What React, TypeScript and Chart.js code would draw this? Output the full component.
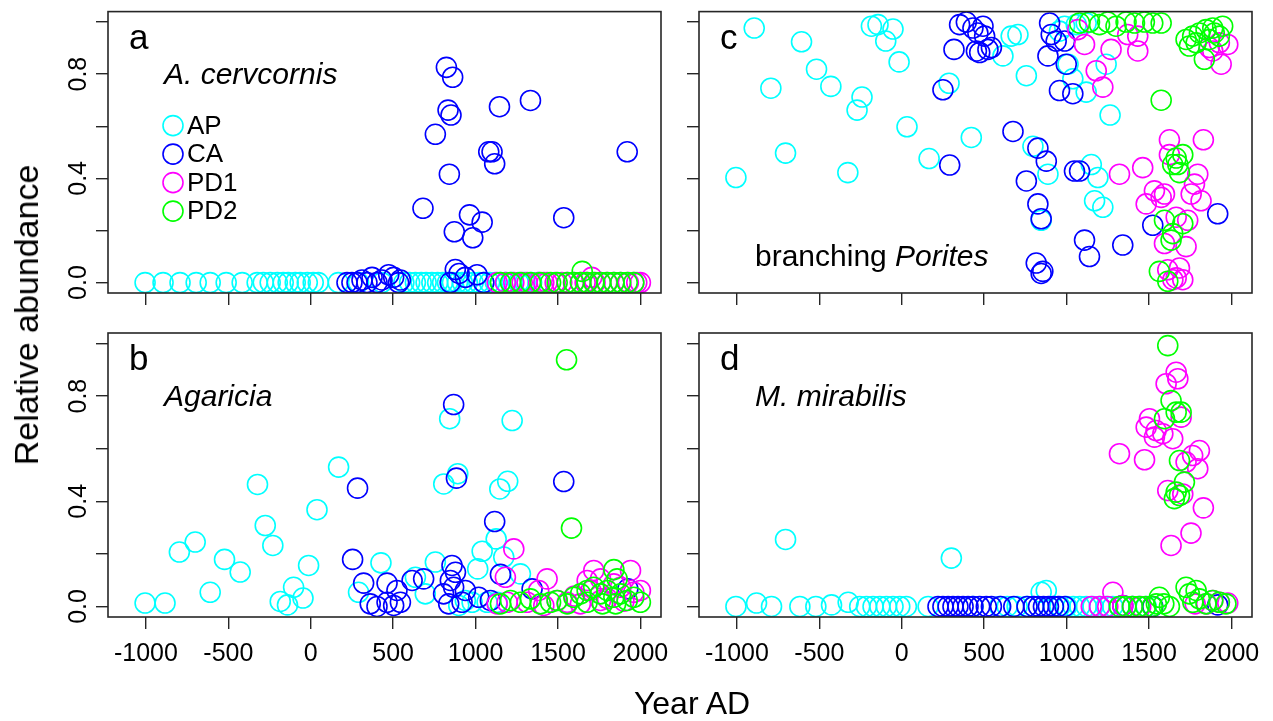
import React, { useEffect, useRef } from 'react';
import { Chart, registerables } from 'chart.js';

Chart.register(...registerables);

const FONT = '"Liberation Sans", Arial, Helvetica, sans-serif';

// ---------- axes ----------
const X_MIN = -1230;
const X_MAX = 2125;
const Y_MIN = -0.04;
const Y_MAX = 1.04;
const X_TICKS = [-1000, -500, 0, 500, 1000, 1500, 2000];
const Y_TICKS = [0, 0.2, 0.4, 0.6, 0.8, 1.0];
const Y_TICK_LABELS = ['0.0', '', '0.4', '', '0.8', ''];

// ---------- series ----------
const SERIES = ['AP', 'CA', 'PD1', 'PD2'];
const COLORS = ['#00FFFF', '#0000FF', '#FF00FF', '#00FF00'];

// ---------- panel a: A. cervcornis  [year, relative abundance] ----------
const A_AP = [[-1005, 0], [-896, 0], [-793, 0], [-695, 0], [-610, 0], [-513, 0], [-416, 0], [-325, 0], [-288, 0], [-246, 0], [-203, 0], [-167, 0], [-137, 0], [-94, 0], [-64, 0], [-21, 0], [15, 0], [46, 0], [167, 0], [290, 0], [432, 0], [565, 0], [600, 0], [635, 0], [670, 0], [700, 0], [735, 0], [770, 0], [800, 0], [830, 0], [860, 0], [890, 0], [920, 0], [950, 0], [985, 0], [1020, 0], [1050, 0], [1085, 0], [1120, 0], [1150, 0], [1185, 0], [1220, 0], [1260, 0], [1300, 0], [1340, 0], [1380, 0]];
const A_CA = [[220, 0], [250, 0], [281, 0], [311, 0.01], [341, 0], [372, 0.02], [402, 0], [432, 0.01], [473, 0.03], [503, 0.02], [533, 0], [544, 0.01], [681, 0.285], [756, 0.569], [823, 0.826], [833, 0.662], [841, 0.416], [846, 0], [851, 0.643], [861, 0.788], [871, 0.195], [877, 0.05], [900, 0.035], [938, 0.02], [963, 0.26], [983, 0.172], [1009, 0.03], [1040, 0.232], [1050, 0], [1080, 0.502], [1100, 0.502], [1116, 0.456], [1145, 0.675], [1333, 0.699], [1535, 0.249], [1920, 0.502]];
const A_PD1 = [[1131, 0], [1181, 0], [1232, 0], [1283, 0], [1313, 0], [1383, 0], [1414, 0], [1434, 0], [1483, 0], [1523, 0], [1556, 0], [1594, 0], [1636, 0], [1665, 0], [1677, 0], [1705, 0.02], [1725, 0], [1758, 0], [1796, 0], [1839, 0], [1880, 0], [1927, 0], [1960, 0], [1978, 0], [2000, 0]];
const A_PD2 = [[1151, 0], [1212, 0], [1272, 0], [1333, 0], [1394, 0], [1455, 0], [1495, 0], [1556, 0], [1596, 0], [1637, 0], [1647, 0.043], [1677, 0], [1717, 0], [1758, 0], [1799, 0], [1839, 0], [1880, 0], [1920, 0], [1960, 0]];

// ---------- panel b: Agaricia ----------
const B_AP = [[-1005, 0.013], [-884, 0.013], [-797, 0.207], [-701, 0.245], [-610, 0.054], [-523, 0.179], [-428, 0.131], [-323, 0.464], [-276, 0.308], [-230, 0.232], [-185, 0.019], [-141, 0.006], [-104, 0.073], [-47, 0.032], [-13, 0.156], [38, 0.368], [169, 0.53], [290, 0.054], [426, 0.166], [635, 0.111], [695, 0.048], [756, 0.169], [807, 0.466], [843, 0.714], [892, 0.505], [898, 0.004], [938, 0.023], [979, 0.016], [1013, 0.143], [1040, 0.21], [1070, 0.016], [1125, 0.257], [1131, 0.016], [1147, 0.447], [1171, 0.188], [1195, 0.476], [1222, 0.707], [1272, 0.124]];
const B_CA = [[254, 0.179], [284, 0.45], [321, 0.089], [361, 0.01], [402, 0], [463, 0.089], [463, 0.016], [503, 0.004], [523, 0.061], [544, 0.016], [615, 0.099], [685, 0.105], [806, 0.048], [837, 0.01], [847, 0.099], [857, 0.156], [867, 0.768], [867, 0.073], [878, 0.13], [884, 0.488], [918, 0.016], [938, 0.061], [1019, 0.035], [1090, 0.023], [1116, 0.323], [1151, 0.122], [1343, 0.067], [1535, 0.475], [1924, 0.067]];
const B_PD1 = [[1131, 0.01], [1181, 0.111], [1192, 0.016], [1232, 0.219], [1313, 0.016], [1383, 0.061], [1414, 0.004], [1434, 0.105], [1495, 0.023], [1556, 0.016], [1600, 0.04], [1636, 0.01], [1677, 0.099], [1700, 0.06], [1717, 0.137], [1758, 0.105], [1758, 0.023], [1800, 0.03], [1839, 0.086], [1880, 0.073], [1900, 0.02], [1940, 0.137], [1960, 0.054], [2000, 0.061]];
const B_PD2 = [[1151, 0.01], [1212, 0.023], [1272, 0.016], [1333, 0.029], [1394, 0.01], [1455, 0.016], [1495, 0.023], [1552, 0.938], [1556, 0.01], [1582, 0.298], [1596, 0.035], [1637, 0.048], [1677, 0.061], [1677, 0.016], [1717, 0.073], [1758, 0.048], [1770, 0.01], [1799, 0.061], [1839, 0.14], [1839, 0.035], [1850, 0.01], [1859, 0.105], [1880, 0.048], [1920, 0.023], [1960, 0.035], [2000, 0.016]];

// ---------- panel c: branching Porites ----------
const C_AP = [[-1006, 0.403], [-895, 0.977], [-794, 0.746], [-705, 0.497], [-608, 0.924], [-517, 0.819], [-430, 0.753], [-327, 0.422], [-271, 0.662], [-241, 0.712], [-184, 0.984], [-144, 0.99], [-97, 0.927], [-53, 0.973], [-16, 0.847], [32, 0.598], [166, 0.476], [287, 0.765], [422, 0.557], [614, 0.87], [664, 0.946], [705, 0.952], [756, 0.794], [796, 0.523], [846, 0.239], [887, 0.416], [957, 0.965], [988, 0.984], [1009, 0.838], [1038, 0.782], [1059, 0.99], [1119, 0.996], [1119, 0.731], [1150, 0.453], [1170, 0.314], [1190, 0.403], [1220, 0.289], [1240, 0.838], [1264, 0.643]];
const C_CA = [[250, 0.74], [291, 0.451], [317, 0.895], [351, 0.99], [392, 1.0], [432, 0.977], [453, 0.889], [462, 0.958], [473, 0.883], [493, 0.984], [503, 0.946], [523, 0.895], [544, 0.902], [675, 0.58], [756, 0.39], [816, 0.075], [826, 0.516], [826, 0.302], [846, 0.245], [846, 0.035], [856, 0.043], [877, 0.466], [887, 0.87], [897, 0.996], [907, 0.952], [937, 0.927], [957, 0.737], [988, 0.927], [998, 0.838], [1038, 0.725], [1048, 0.428], [1079, 0.428], [1109, 0.163], [1139, 0.1], [1341, 0.144], [1523, 0.22], [1917, 0.264]];
const C_PD1 = [[1068, 0.971], [1109, 0.914], [1180, 0.813], [1220, 0.75], [1270, 0.895], [1321, 0.416], [1371, 0.952], [1432, 0.946], [1432, 0.889], [1462, 0.441], [1483, 0.302], [1533, 0.352], [1574, 0.327], [1594, 0.34], [1594, 0.15], [1614, 0.049], [1624, 0.548], [1624, 0.491], [1645, 0.011], [1665, 0.251], [1665, 0.018], [1685, 0.056], [1705, 0.011], [1725, 0.138], [1735, 0.239], [1756, 0.34], [1776, 0.378], [1796, 0.416], [1816, 0.314], [1830, 0.548], [1866, 0.902], [1887, 0.889], [1927, 0.92], [1938, 0.838], [1978, 0.914]];
const C_PD2 = [[1079, 0.996], [1139, 1.0], [1200, 0.99], [1250, 1.0], [1300, 0.984], [1361, 1.0], [1412, 0.996], [1472, 1.0], [1523, 0.996], [1563, 0.043], [1574, 0.996], [1574, 0.7], [1594, 0.239], [1614, 0.005], [1634, 0.163], [1644, 0.453], [1644, 0.188], [1665, 0.478], [1675, 0.453], [1685, 0.422], [1705, 0.491], [1705, 0.226], [1725, 0.933], [1745, 0.908], [1765, 0.946], [1786, 0.92], [1806, 0.958], [1836, 0.857], [1846, 0.971], [1866, 0.933], [1887, 0.977], [1896, 0.958], [1927, 0.946], [1947, 0.984]];

// ---------- panel d: M. mirabilis ----------
const D_AP = [[-1006, 0], [-881, 0.013], [-790, 0], [-705, 0.255], [-618, 0], [-521, 0], [-426, 0.006], [-325, 0.016], [-255, 0], [-214, 0], [-174, 0], [-133, 0], [-93, 0], [-53, 0], [-12, 0], [28, 0], [160, 0], [301, 0.184], [432, 0], [594, 0], [640, 0], [700, 0], [760, 0], [800, 0], [846, 0.054], [877, 0.061], [920, 0], [960, 0], [1000, 0], [1040, 0], [1080, 0], [1120, 0], [1160, 0], [1200, 0], [1240, 0], [1280, 0], [1320, 0], [1360, 0], [1400, 0], [1440, 0], [1483, 0]];
const D_CA = [[220, 0], [250, 0], [281, 0], [311, 0], [341, 0], [372, 0], [402, 0], [432, 0], [473, 0], [513, 0], [544, 0], [600, 0], [680, 0], [760, 0], [800, 0], [830, 0], [860, 0], [890, 0], [920, 0], [950, 0], [990, 0], [1341, 0.004], [1523, 0], [1917, 0.006]];
const D_PD1 = [[1150, 0], [1200, 0], [1250, 0], [1281, 0.054], [1321, 0.581], [1341, 0.004], [1400, 0], [1450, 0], [1473, 0.558], [1483, 0.682], [1503, 0.714], [1533, 0.644], [1543, 0.669], [1584, 0.657], [1604, 0.847], [1614, 0.441], [1634, 0.232], [1644, 0.638], [1665, 0.891], [1675, 0.866], [1695, 0.72], [1705, 0.428], [1725, 0.549], [1755, 0.279], [1765, 0.574], [1780, 0.01], [1796, 0.524], [1806, 0.593], [1830, 0.375], [1850, 0.01], [1887, 0.023], [1927, 0.016], [1978, 0.013]];
const D_PD2 = [[1321, 0], [1360, 0], [1400, 0], [1440, 0], [1480, 0], [1520, 0], [1545, 0.01], [1563, 0.035], [1590, 0.01], [1594, 0.714], [1614, 0.992], [1624, 0], [1634, 0.783], [1654, 0.41], [1665, 0.739], [1665, 0.435], [1685, 0.555], [1685, 0.422], [1695, 0.739], [1715, 0.473], [1725, 0.073], [1745, 0.048], [1766, 0.016], [1786, 0.061], [1806, 0.029], [1846, 0.01], [1887, 0.023], [1927, 0.016], [1967, 0.01]];

// ---------- layout (page pixels) ----------
type PanelDef = {
  id: string;
  letter: string;
  name: { text: string; italic: boolean }[];
  nameDy: number;
  series: number[][][];
  x: number; y: number; w: number; h: number;
  plotL: number; plotT: number; plotR: number; plotB: number;
  showX: boolean; showY: boolean; legend: boolean;
};

const PANELS: PanelDef[] = [
  { id: 'a', letter: 'a', name: [{ text: 'A. cervcornis', italic: true }], nameDy: 72, series: [A_AP, A_CA, A_PD1, A_PD2],
    x: 40, y: 0, w: 640, h: 320, plotL: 108, plotT: 8, plotR: 661, plotB: 293, showX: false, showY: true, legend: true },
  { id: 'b', letter: 'b', name: [{ text: 'Agaricia', italic: true }], nameDy: 73, series: [B_AP, B_CA, B_PD1, B_PD2],
    x: 40, y: 320, w: 640, h: 401, plotL: 108, plotT: 333, plotR: 661, plotB: 617, showX: true, showY: true, legend: false },
  { id: 'c', letter: 'c', name: [{ text: 'branching ', italic: false }, { text: 'Porites', italic: true }], nameDy: 254, series: [C_AP, C_CA, C_PD1, C_PD2],
    x: 680, y: 0, w: 593, h: 320, plotL: 699, plotT: 8, plotR: 1252, plotB: 293, showX: false, showY: false, legend: false },
  { id: 'd', letter: 'd', name: [{ text: 'M. mirabilis', italic: true }], nameDy: 73, series: [D_AP, D_CA, D_PD1, D_PD2],
    x: 680, y: 320, w: 593, h: 401, plotL: 699, plotT: 333, plotR: 1252, plotB: 617, showX: true, showY: false, legend: false },
];

const AXIS_COLOR = '#262626';

function makeConfig(def: PanelDef): any {
  const left = def.plotL - def.x;
  const top = def.plotT - def.y;
  const right = def.w - (def.plotR - def.x);
  const bottom = def.h - (def.plotB - def.y);

  const decor = {
    id: 'decor' + def.id,
    afterDraw(chart: any) {
      const ctx = chart.ctx;
      const a = chart.chartArea;
      ctx.save();
      // box
      ctx.strokeStyle = AXIS_COLOR;
      ctx.lineWidth = 1.6;
      ctx.strokeRect(a.left, a.top, a.right - a.left, a.bottom - a.top);
      ctx.fillStyle = '#000';
      // y tick labels
      if (def.showY) {
        const ys = chart.scales.y;
        ctx.font = `25px ${FONT}`;
        ctx.textAlign = 'center';
        ctx.textBaseline = 'middle';
        Y_TICKS.forEach((v, i) => {
          const lab = Y_TICK_LABELS[i];
          if (!lab) return;
          const py = ys.getPixelForValue(v);
          ctx.save();
          ctx.translate(a.left - 29, py);
          ctx.rotate(-Math.PI / 2);
          ctx.fillText(lab, 0, 0);
          ctx.restore();
        });
      }
      // panel letter
      ctx.textAlign = 'left';
      ctx.textBaseline = 'alphabetic';
      ctx.font = `35px ${FONT}`;
      ctx.fillText(def.letter, a.left + 21, a.top + 37);
      // species name
      let nx = a.left + 56;
      def.name.forEach((part) => {
        ctx.font = `${part.italic ? 'italic ' : ''}30px ${FONT}`;
        ctx.fillText(part.text, nx, a.top + def.nameDy);
        nx += ctx.measureText(part.text).width;
      });
      // legend
      if (def.legend) {
        chart.data.datasets.forEach((ds: any, i: number) => {
          const cy = a.top + 114 + i * 28.5;
          const cx = a.left + 65;
          ctx.beginPath();
          ctx.arc(cx, cy, 10, 0, Math.PI * 2);
          ctx.strokeStyle = ds.borderColor;
          ctx.lineWidth = 1.6;
          ctx.stroke();
          ctx.font = `26px ${FONT}`;
          ctx.textBaseline = 'middle';
          ctx.fillStyle = '#000';
          ctx.fillText(ds.label, cx + 14, cy + 1);
        });
      }
      ctx.restore();
    },
  };

  return {
    type: 'scatter',
    data: {
      datasets: SERIES.map((name, i) => ({
        label: name,
        data: def.series[i].map((p) => ({ x: p[0], y: p[1] })),
        borderColor: COLORS[i],
        backgroundColor: 'rgba(0,0,0,0)',
        pointRadius: 10,
        pointHoverRadius: 10,
        pointBorderWidth: 1.6,
        showLine: false,
        order: 4 - i,
      })),
    },
    options: {
      responsive: false,
      maintainAspectRatio: false,
      animation: false,
      events: [],
      layout: { padding: { left: 0, top, right, bottom: 0 } },
      plugins: { legend: { display: false }, tooltip: { enabled: false } },
      scales: {
        x: {
          type: 'linear',
          position: 'bottom',
          min: X_MIN,
          max: X_MAX,
          afterBuildTicks: (s: any) => { s.ticks = X_TICKS.map((v) => ({ value: v })); },
          afterFit: (s: any) => { s.height = bottom; },
          grid: { display: true, drawOnChartArea: false, drawTicks: true, tickLength: 12, color: AXIS_COLOR, lineWidth: 1.4 },
          border: { display: false },
          ticks: {
            display: def.showX,
            autoSkip: false,
            maxRotation: 0,
            minRotation: 0,
            padding: 10,
            color: '#000',
            font: { family: FONT, size: 25 },
            callback: (v: any) => String(v),
          },
        },
        y: {
          type: 'linear',
          position: 'left',
          min: Y_MIN,
          max: Y_MAX,
          afterBuildTicks: (s: any) => { s.ticks = Y_TICKS.map((v) => ({ value: v })); },
          afterFit: (s: any) => { s.width = left; },
          grid: { display: true, drawOnChartArea: false, drawTicks: true, tickLength: 12, color: AXIS_COLOR, lineWidth: 1.4 },
          border: { display: false },
          ticks: { display: false },
        },
      },
    },
    plugins: [decor],
  };
}

function Panel({ def }: { def: PanelDef }) {
  const ref = useRef<HTMLCanvasElement | null>(null);
  useEffect(() => {
    if (!ref.current) return;
    const chart = new Chart(ref.current, makeConfig(def));
    return () => chart.destroy();
  }, [def]);
  return (
    <canvas
      ref={ref}
      width={def.w}
      height={def.h}
      style={{ position: 'absolute', left: def.x, top: def.y, width: def.w, height: def.h }}
    />
  );
}

export default function App() {
  return (
    <div style={{ position: 'fixed', left: 0, top: 0, width: 1273, height: 721, background: '#fff', overflow: 'hidden', fontFamily: FONT, color: '#000' }}>
      {PANELS.map((p) => <Panel key={p.id} def={p} />)}
      <div style={{ position: 'absolute', left: 26, top: 315, transform: 'translate(-50%, -50%) rotate(-90deg)', whiteSpace: 'nowrap', fontSize: 34, lineHeight: 1 }}>
        Relative abundance
      </div>
      <div style={{ position: 'absolute', left: 692, top: 703, transform: 'translate(-50%, -50%)', whiteSpace: 'nowrap', fontSize: 32, lineHeight: 1 }}>
        Year AD
      </div>
    </div>
  );
}
